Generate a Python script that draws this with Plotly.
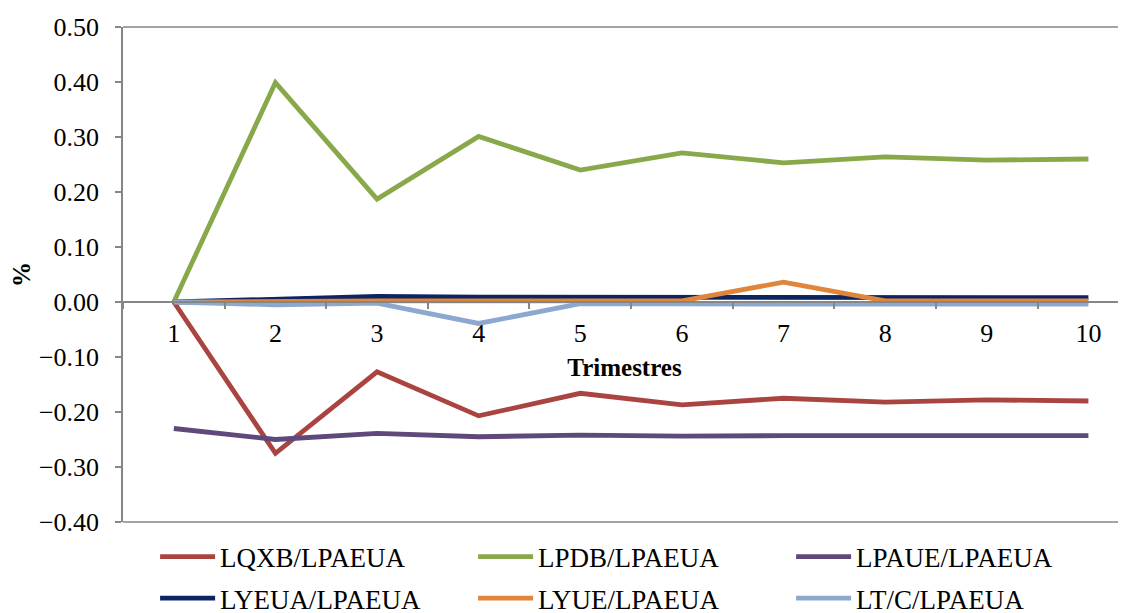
import plotly.graph_objects as go

trimestres = ["1", "2", "3", "4", "5", "6", "7", "8", "9", "10"]

lqxb = [0.0, -0.275, -0.127, -0.207, -0.166, -0.187, -0.175, -0.182, -0.178, -0.180]
lpdb = [0.0, 0.399, 0.187, 0.301, 0.240, 0.271, 0.253, 0.264, 0.258, 0.260]
lpaue = [-0.230, -0.250, -0.239, -0.245, -0.242, -0.244, -0.243, -0.243, -0.243, -0.243]
lyeua = [0.0, 0.004, 0.010, 0.009, 0.009, 0.008, 0.008, 0.008, 0.008, 0.008]
lyue = [0.0, 0.002, 0.002, 0.002, 0.002, 0.002, 0.036, 0.002, 0.002, 0.002]
ltc = [0.0, -0.005, -0.002, -0.039, -0.003, -0.004, -0.004, -0.004, -0.004, -0.004]

series = [
    ("LQXB/LPAEUA", lqxb, "#AA4441", "legend"),
    ("LPDB/LPAEUA", lpdb, "#88A84A", "legend"),
    ("LPAUE/LPAEUA", lpaue, "#5E497A", "legend"),
    ("LYEUA/LPAEUA", lyeua, "#0C2462", "legend2"),
    ("LYUE/LPAEUA", lyue, "#E0863C", "legend2"),
    ("LT/C/LPAEUA", ltc, "#8DA8CF", "legend2"),
]

FONT = "Liberation Serif, Times New Roman, serif"
GRAY = "#868686"

fig = go.Figure()
for name, vals, color, leg in series:
    fig.add_trace(go.Scatter(
        x=trimestres, y=vals, name=name, mode="lines",
        line=dict(color=color, width=4.8), legend=leg,
    ))

legend_common = dict(
    orientation="h", xanchor="left", yanchor="middle",
    entrywidth=248, entrywidthmode="pixels", font=dict(size=27),
    bgcolor="rgba(0,0,0,0)", itemwidth=55,
)

fig.update_layout(
    width=1118, height=605,
    margin=dict(l=115, r=0, t=19, b=91, autoexpand=False),
    plot_bgcolor="white", paper_bgcolor="white",
    font=dict(family=FONT, size=26, color="black"),
    xaxis=dict(
        type="category", range=[-0.5, 9.37],
        anchor="free", position=0.4/0.9,
        showline=True, linecolor=GRAY, linewidth=1.5,
        ticks="outside", ticklen=6, tickcolor=GRAY, tickwidth=1.5,
        tickson="boundaries", showgrid=False, zeroline=False,
        ticklabelstandoff=8, automargin=False,
        title=dict(text="<b>Trimestres</b>", font=dict(size=25), standoff=11),
    ),
    yaxis=dict(
        range=[-0.4, 0.5], dtick=0.1, tickformat=".2f",
        showline=True, linecolor=GRAY, linewidth=1.5,
        ticks="outside", ticklen=6, tickcolor=GRAY, tickwidth=1.5,
        showgrid=False, zeroline=False, automargin=False,
        ticklabelstandoff=11,
        title=dict(text="<b>%</b>", font=dict(size=25), standoff=12),
    ),
    legend=dict(x=0.032, y=-0.0707, **legend_common),
    legend2=dict(x=0.032, y=-0.1545, **legend_common),
    showlegend=True,
    shapes=[
        dict(type="line", xref="paper", yref="paper", x0=0, x1=1.02, y0=1, y1=1,
             line=dict(color=GRAY, width=1.5)),
        dict(type="line", xref="paper", yref="paper", x0=0, x1=1.02, y0=0, y1=0,
             line=dict(color=GRAY, width=1.5)),
    ],
)

fig.write_html("out.html")
